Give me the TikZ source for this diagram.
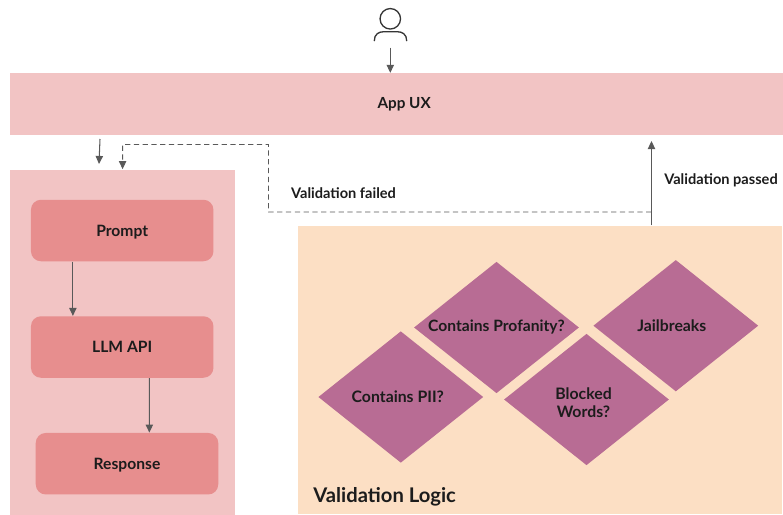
\documentclass[tikz,border=0pt]{standalone}
\usepackage{fontspec}
\setmainfont{Lato}
\usetikzlibrary{arrows.meta,shapes.geometric}
\definecolor{panelpink}{HTML}{F2C4C4}
\definecolor{boxrose}{HTML}{E78E8E}
\definecolor{logicpeach}{HTML}{FCDFC4}
\definecolor{checkplum}{HTML}{B86C94}
\definecolor{flowgrey}{HTML}{595959}
\definecolor{inkblack}{HTML}{1C1C1C}
\begin{document}
\begin{tikzpicture}[scale=0.2]
    \tikzstyle{every node}+=[inner sep=0pt,text=inkblack,font=\fontsize{8.3}{10}\selectfont\bfseries]
    \tikzstyle{panel}=[fill=panelpink,font=\fontsize{8.7}{10}\selectfont\bfseries]
    \tikzstyle{stepbox}=[fill=boxrose,rounded corners=0.2cm,minimum width=3.65cm,minimum height=1.23cm,font=\fontsize{8.9}{10}\selectfont\bfseries,text height=7pt,text depth=0.4pt]
    \tikzstyle{check}=[diamond,fill=checkplum,shape aspect=1.255,minimum width=3.3cm,minimum height=2.63cm,align=center,font=\fontsize{9}{10}\selectfont\bfseries]
    \tikzstyle{flow}=[flowgrey,line width=0.6pt,-{Triangle[length=4.6pt,width=4.2pt]}]
    \useasboundingbox (0,0) rectangle (78.3,-51.4);
    \node [panel,minimum width=15.46cm,minimum height=1.24cm] (appux) at (39.67,-10.42) {\hspace*{8.5pt}App UX};
    \node [panel,minimum width=4.49cm,minimum height=6.9cm] (llmpanel) at (12.26,-34.2) {};
    \node [fill=logicpeach,minimum width=9.68cm,minimum height=5.76cm] (logic) at (54.03,-36.98) {};
    \node [stepbox] (prompt) at (12.22,-23.05) {Prompt};
    \node [stepbox] (llm) at (12.22,-34.7) {LLM API};
    \node [stepbox] (response) at (12.7,-46.37) {Response};
    \node [check] (pii) at (40.08,-39.7) {Contains PII?\hspace*{3.4pt}};
    \node [check,font=\fontsize{8.9}{10}\selectfont\bfseries] (profanity) at (49.65,-32.75) {Contains Profanity?};
    \node [check] (blocked) at (58.65,-39.95) {\parbox{1.6cm}{\centering\rule{0pt}{10.4pt}Blocked\\Words?}\hspace*{3.4pt}};
    \node [check] (jailbreaks) at (67.58,-32.57) {Jailbreaks\hspace*{4.5pt}};
    \node (failedlabel) at (34.35,-19.35) {Validation failed};
    \node (passedlabel) at (72.1,-18) {Validation passed};
    \node [anchor=west,font=\fontsize{11.5}{13}\selectfont\bfseries] (logiclabel) at (31.3,-49.67) {Validation Logic};
    \node [circle,draw=flowgrey!60!black,line width=0.75pt,minimum size=0.41cm] (user) at (39.03,-1.88) {};
    \draw [flowgrey!60!black,line width=0.75pt,line cap=round] (37.43,-4.07) .. controls (37.43,-3.4) and (37.9,-3.17) .. (38.4,-3.17) -- (39.7,-3.17) .. controls (40.2,-3.17) and (40.67,-3.4) .. (40.67,-4.07);
    \coordinate (userfoot) at (39.03,-4.75);
    \coordinate (inleft) at (10.0,-13.9);
    \coordinate (inright) at (9.9,-16.4);
    \coordinate (passedtop) at (65.15,-14.1);
    \coordinate (failedbend) at (26.85,-21.2);
    \draw [flow] (userfoot) -- (userfoot |- appux.north);
    \draw [flow] (inleft) -- (inright);
    \draw [flow] (logic.north -| passedtop) -- (passedtop);
    \draw [flow,densely dashed,line width=0.5pt] (passedtop |- failedbend) -- (failedbend) -- (26.85,-14.45) -- (12.26,-14.45) -- (llmpanel.north);
    \draw [flow] ([xshift=-140.3pt]prompt.south) -- ([xshift=-140.3pt]llm.north);
    \draw [flow] ([xshift=77.25pt]llm.south) -- ([xshift=63.6pt]response.north);
\end{tikzpicture}
\end{document}
